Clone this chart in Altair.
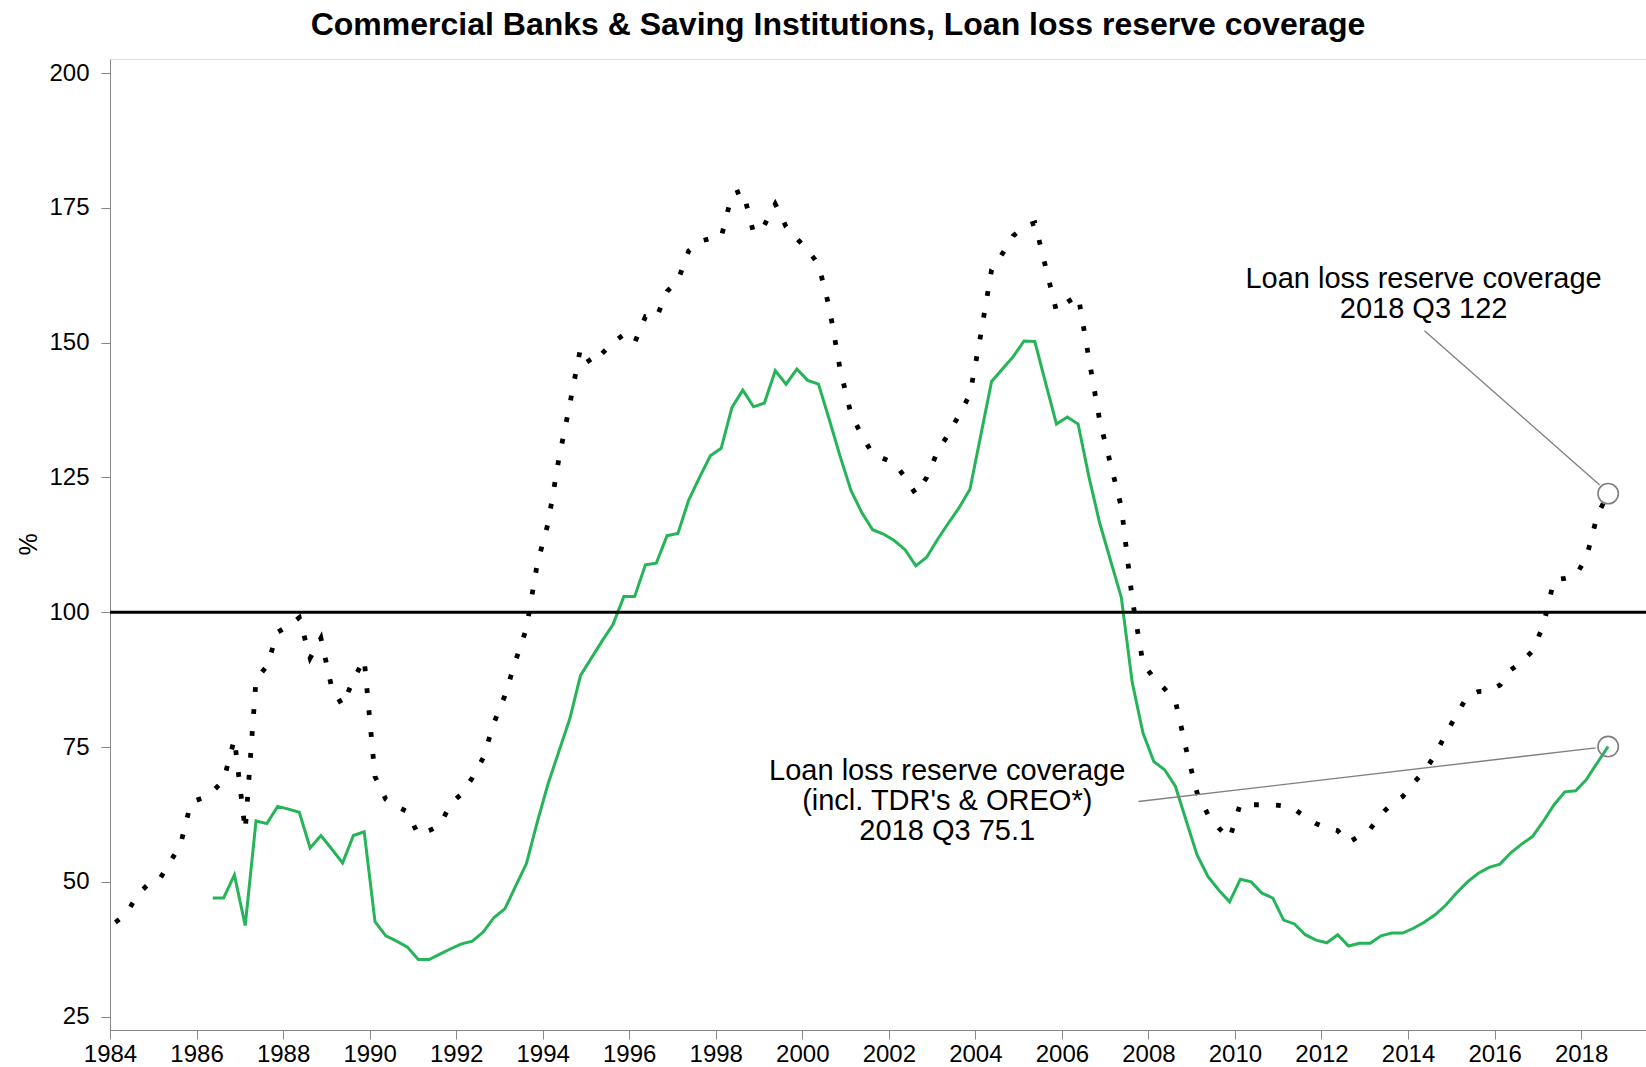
import altair as alt
import pandas as pd

FONT = "Liberation Sans"

# ---------------- data ----------------
# Loan loss reserve coverage, quarterly 1984 Q1 .. 2018 Q3
coverage = [
    42.5, 44.0, 47.5, 49.5, 50.2, 53.5, 56.8, 64.8, 65.5, 66.8,
    68.8, 76.5, 59.5, 87.5, 90.0, 96.3, 97.5, 99.0, 91.5, 95.2,
    86.0, 82.7, 87.5, 91.3, 69.5, 65.3, 64.0, 63.0, 58.7, 59.5,
    60.5, 64.5, 66.3, 69.3, 73.0, 79.5, 84.5, 91.0, 97.0, 109.0,
    116.5, 128.5, 138.5, 149.0, 146.0, 148.0, 150.0, 151.5, 150.0, 154.8,
    154.5, 159.5, 161.5, 167.0, 168.8, 169.3, 169.5, 177.5, 178.3, 170.3,
    171.8, 175.7, 171.5, 169.3, 167.2, 164.5, 156.5, 145.0, 136.8, 132.8,
    129.4, 128.5, 127.7, 125.0, 121.9, 125.0, 129.8, 133.0, 136.6, 140.4,
    151.5, 163.5, 166.5, 169.8, 171.5, 172.2, 164.0, 155.8, 157.5, 158.8,
    147.0, 135.5, 127.5, 119.5, 102.5, 90.5, 87.8, 85.8, 83.5, 74.5,
    66.5, 62.5, 60.0, 58.0, 64.5, 64.3, 64.3, 64.3, 64.1, 63.5,
    62.0, 60.8, 60.0, 59.5, 57.3, 58.5, 59.8, 62.5, 64.5, 65.8,
    68.3, 70.5, 73.5, 77.5, 81.0, 84.5, 85.3, 85.4, 86.5, 89.3,
    90.8, 92.8, 97.5, 106.0, 106.3, 106.8, 110.2, 118.0, 122.0,
]

# Loan loss reserve coverage incl. TDR's & OREO, quarterly 1986 Q2 .. 2018 Q3
coverage_incl = [
    47.0, 47.0, 51.3, 41.9, 61.3, 60.8, 64.0, 63.5, 62.9, 56.3,
    58.6, 56.1, 53.5, 58.6, 59.3, 42.6, 40.0, 39.0, 37.9, 35.6,
    35.6, 36.6, 37.6, 38.5, 39.0, 40.7, 43.4, 45.0, 49.2, 53.4,
    61.1, 68.2, 74.2, 80.2, 88.3, 91.5, 94.7, 97.7, 102.9, 102.9,
    108.8, 109.1, 114.2, 114.6, 120.8, 125.0, 129.0, 130.4, 138.0, 141.2,
    138.1, 138.8, 144.8, 142.3, 145.1, 143.0, 142.3, 135.7, 128.9, 122.6,
    118.5, 115.3, 114.5, 113.3, 111.6, 108.6, 110.2, 113.5, 116.5, 119.4,
    122.8, 132.8, 142.8, 145.1, 147.4, 150.3, 150.2, 142.5, 134.9, 136.2,
    134.9, 125.1, 116.5, 109.6, 102.7, 87.0, 77.6, 72.3, 70.8, 67.7,
    61.3, 55.0, 51.0, 48.5, 46.3, 50.5, 50.0, 47.9, 47.0, 42.9,
    42.2, 40.2, 39.2, 38.7, 40.2, 38.1, 38.6, 38.6, 40.0, 40.5,
    40.5, 41.4, 42.5, 43.9, 45.7, 48.0, 50.0, 51.6, 52.7, 53.3,
    55.4, 57.0, 58.4, 61.2, 64.3, 66.7, 66.9, 69.0, 72.1, 75.1,
]

coverage_start = (1984, 1)
coverage_incl_start = (1986, 2)

x_ticks = [1984, 1986, 1988, 1990, 1992, 1994, 1996, 1998, 2000, 2002,
           2004, 2006, 2008, 2010, 2012, 2014, 2016, 2018]
y_ticks = [25, 50, 75, 100, 125, 150, 175, 200]

title_text = "Commercial Banks & Saving Institutions, Loan loss reserve coverage"
label_plain = "Loan loss reserve coverage\n2018 Q3 122"
label_incl = "Loan loss reserve coverage\n(incl. TDR's & OREO*)\n2018 Q3 75.1"


def quarter_dates(start, n):
    y, q = start
    out = []
    for _ in range(n):
        out.append(y + (q - 1) * 0.25 + 0.125)  # middle of the quarter
        q += 1
        if q > 4:
            q, y = 1, y + 1
    return out


df_cov = pd.DataFrame({"date": quarter_dates(coverage_start, len(coverage)),
                       "value": coverage})
df_incl = pd.DataFrame({"date": quarter_dates(coverage_incl_start, len(coverage_incl)),
                        "value": coverage_incl})

df_circles = pd.DataFrame({"date": [df_cov["date"].iloc[-1], df_incl["date"].iloc[-1]],
                           "value": [coverage[-1], coverage_incl[-1]]})

# annotation layout (data coordinates)
df_leaders = pd.DataFrame({
    "x": [2014.38, 2007.77], "y": [152.2, 64.9],
    "x2": [2018.43, 2018.34], "y2": [123.6, 74.85],
})
df_labels = pd.DataFrame({
    "x": [2014.36, 2003.35], "y": [160.2, 68.8],
    "text": [label_plain, label_incl],
})

# ---------------- chart ----------------
xs = alt.Scale(domain=[1984, 2019.5], nice=False, zero=False)
ys = alt.Scale(domain=[22.53, 202.6], nice=False, zero=False)

x_enc = alt.X("date:Q", scale=xs,
              axis=alt.Axis(values=x_ticks, format="d", title=None, grid=False,
                            labelFontSize=24, tickSize=9, labelPadding=3,
                            labelFlush=False, labelOverlap=False))
y_enc = alt.Y("value:Q", scale=ys,
              axis=alt.Axis(values=y_ticks, title="%", grid=False,
                            labelFontSize=24, tickSize=9, labelPadding=12,
                            titleFontSize=25, titleFontWeight="normal",
                            titleX=-82, titleY=485, titleAlign="center",
                            titleBaseline="middle", titleAngle=270))

green = alt.Chart(df_incl).mark_line(color="#25b457", strokeWidth=3).encode(
    x=x_enc, y=y_enc)

rule100 = alt.Chart(pd.DataFrame({"value": [100]})).mark_rule(
    color="black", strokeWidth=3).encode(y=alt.Y("value:Q", scale=ys))

dotted = alt.Chart(df_cov).mark_line(
    color="black", strokeWidth=4.8, strokeDash=[4.8, 17.2], strokeCap="butt"
).encode(x=alt.X("date:Q", scale=xs), y=alt.Y("value:Q", scale=ys))

circles = alt.Chart(df_circles).mark_point(
    shape="circle", size=415, filled=False, color="#808080", strokeWidth=1.6,
    opacity=1).encode(x=alt.X("date:Q", scale=xs), y=alt.Y("value:Q", scale=ys))

leaders = alt.Chart(df_leaders).mark_rule(color="#808080", strokeWidth=1.4).encode(
    x=alt.X("x:Q", scale=xs), y=alt.Y("y:Q", scale=ys),
    x2="x2:Q", y2="y2:Q")

labels = alt.Chart(df_labels).mark_text(
    font=FONT, fontSize=29, align="center", baseline="alphabetic",
    lineBreak="\n", lineHeight=30, color="black").encode(
    x=alt.X("x:Q", scale=xs), y=alt.Y("y:Q", scale=ys), text="text:N")

chart = alt.layer(green, rule100, dotted, circles, leaders, labels).properties(
    width=1536, height=971,
    padding={"left": 110, "top": 59, "right": 0, "bottom": 37},
    autosize=alt.AutoSizeParams(type="none"),
    title=alt.TitleParams(text=title_text, font=FONT, fontSize=32,
                          fontWeight="bold", color="black", anchor="middle",
                          dx=-40, dy=31, offset=23, baseline="alphabetic"),
).configure_view(
    stroke="#808080", strokeWidth=1.6
).configure_axis(
    labelFont=FONT, titleFont=FONT, labelColor="black", titleColor="black",
    tickColor="black", domainColor="#808080", domainWidth=1.6, tickWidth=1.3
).configure(background="white")

chart.save("out.html", embed_options={"renderer": "svg", "actions": False})
